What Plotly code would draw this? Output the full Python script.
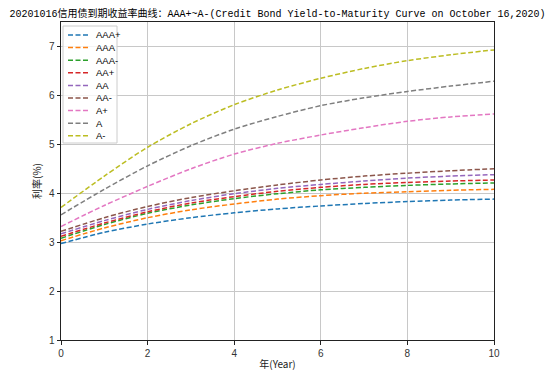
import plotly.graph_objects as go

years = [0, 1, 2, 3, 4, 5, 6, 7, 8, 9, 10]
names = ["AAA+", "AAA", "AAA-", "AA+", "AA", "AA-", "A+", "A", "A-"]
colors = ["#1f77b4", "#ff7f0e", "#2ca02c", "#d62728", "#9467bd",
          "#8c564b", "#e377c2", "#7f7f7f", "#bcbd22"]

aaa_plus = [2.97, 3.20, 3.37, 3.50, 3.60, 3.68, 3.74, 3.79, 3.83, 3.86, 3.88]
aaa = [3.03, 3.29, 3.50, 3.66, 3.78, 3.88, 3.95, 4.00, 4.03, 4.06, 4.08]
aaa_minus = [3.08, 3.36, 3.59, 3.76, 3.89, 3.99, 4.07, 4.12, 4.16, 4.19, 4.21]
aa_plus = [3.12, 3.39, 3.62, 3.80, 3.93, 4.04, 4.12, 4.18, 4.22, 4.25, 4.27]
aa = [3.17, 3.44, 3.67, 3.85, 3.99, 4.10, 4.18, 4.25, 4.31, 4.35, 4.38]
aa_minus = [3.22, 3.50, 3.73, 3.91, 4.05, 4.17, 4.27, 4.35, 4.41, 4.46, 4.50]
a_plus = [3.32, 3.75, 4.14, 4.50, 4.80, 5.02, 5.19, 5.34, 5.47, 5.56, 5.62]
a_mid = [3.56, 4.08, 4.56, 4.97, 5.31, 5.57, 5.79, 5.95, 6.08, 6.19, 6.29]
a_minus = [3.71, 4.35, 4.94, 5.42, 5.81, 6.11, 6.35, 6.55, 6.71, 6.83, 6.93]

series = [aaa_plus, aaa, aaa_minus, aa_plus, aa, aa_minus, a_plus, a_mid, a_minus]

title = "20201016信用债到期收益率曲线：AAA+~A-(Credit Bond Yield-to-Maturity Curve on October 16,2020)"

fig = go.Figure()
for name, col, vals in zip(names, colors, series):
    fig.add_trace(go.Scatter(
        x=years, y=vals, mode="lines", name=name,
        line=dict(color=col, width=1.5, dash="5px,2.5px", shape="spline", smoothing=0.8),
        showlegend=False,
    ))

# page body has an 8px margin: the figure sits at (8, 8) in the window
OFF = 8
W, H = 433.0, 318.0
def px(x):
    return (x - 61) / W
def py(y):
    return (340 - y) / H

shapes = [dict(type="rect", xref="paper", yref="paper",
               x0=px(63), x1=px(117), y0=py(143), y1=py(26),
               line=dict(color="#cccccc", width=1), fillcolor="rgba(255,255,255,0.8)",
               layer="above")]
annotations = []
for i, (name, col) in enumerate(zip(names, colors)):
    yy = 35 + i * 12.6
    shapes.append(dict(type="line", xref="paper", yref="paper",
                       x0=px(68), x1=px(88), y0=py(yy), y1=py(yy),
                       line=dict(color=col, width=1.5, dash="5px,2.5px"), layer="above"))
    annotations.append(dict(xref="paper", yref="paper", x=px(95), y=py(yy),
                            text=name, showarrow=False, xanchor="left", yanchor="middle",
                            borderpad=0,
                            font=dict(family="Liberation Sans, Arial", size=9.5, color="#000")))

fig.update_layout(
    width=554 - OFF, height=373 - OFF,
    margin=dict(l=61 - OFF, r=60, t=22 - OFF, b=33, autoexpand=False),
    paper_bgcolor="white", plot_bgcolor="white",
    title=dict(text=title, x=0.5, xref="paper", xanchor="center", y=0.985, yanchor="middle",
               font=dict(family="Liberation Mono, Noto Sans CJK SC", size=10, color="#000")),
    shapes=shapes, annotations=annotations,
    showlegend=False,
)
axis_common = dict(showline=True, linecolor="#222", linewidth=1, mirror=True,
                   showgrid=True, gridcolor="#c8c8c8", gridwidth=1,
                   ticks="outside", ticklen=3.5, tickcolor="#222", zeroline=False,
                   automargin=False,
                   tickfont=dict(family="Liberation Sans, Arial", size=10, color="#333"))
fig.update_xaxes(range=[0, 10], dtick=2, tick0=0,
                 title=dict(text="年(Year)", standoff=3,
                            font=dict(family="Noto Sans CJK SC", size=10, color="#222")),
                 **axis_common)
fig.update_yaxes(range=[1, 7.5], dtick=1, tick0=1,
                 title=dict(text="利率(%)", standoff=5,
                            font=dict(family="Noto Sans CJK SC", size=10, color="#222")),
                 **axis_common)

fig.write_html("out.html")
